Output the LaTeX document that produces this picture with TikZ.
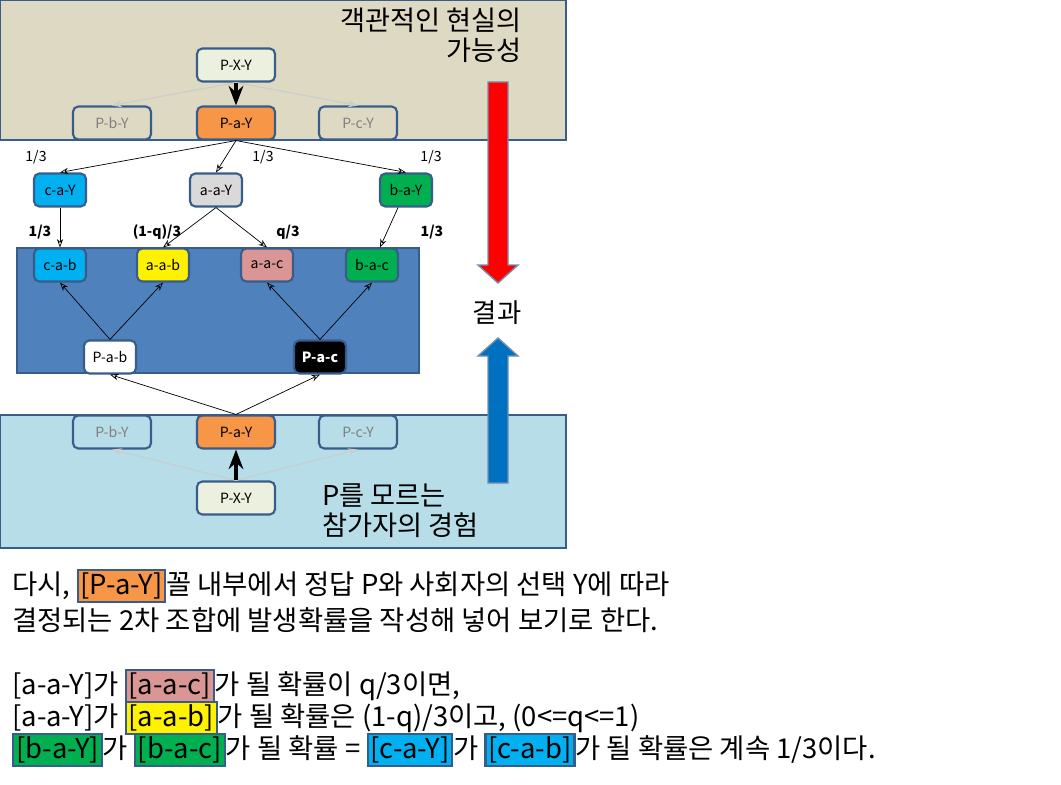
\documentclass[tikz,border=0pt]{standalone}
\usepackage{fontspec}
\setmainfont{Noto Sans CJK KR}
\usetikzlibrary{arrows.meta}
\definecolor{frame}{HTML}{385D8A}
\definecolor{tan}{HTML}{DDD9C3}
\definecolor{sky}{HTML}{B7DDE8}
\definecolor{mid}{HTML}{4F81BD}
\definecolor{orng}{HTML}{F79646}
\definecolor{cyn}{HTML}{00B0F0}
\definecolor{grn}{HTML}{00B050}
\definecolor{pnk}{HTML}{D99694}
\definecolor{pale}{HTML}{EBF1DE}
\definecolor{gry}{HTML}{D9D9D9}
\definecolor{deep}{HTML}{0070C0}
\tikzset{
  >=Stealth,
  every node/.append style={font=\fontsize{8}{9}\selectfont},
}
\tikzset{
  box/.style={draw=frame, line width=1.2pt, rounded corners=3pt, align=center, minimum height=0.66cm},
  wide/.style={box, minimum width=1.56cm},
  narrow/.style={box, minimum width=1.04cm},
  faded/.style={wide, text=gray},
  arrow/.style={-{Stealth[open]}, line width=0.4pt},
  ghost/.style={-{Stealth[open]}, draw=gray!40, line width=0.6pt},
  heavy/.style={-{Stealth}, line width=1.8pt},
  panel/.style={draw=frame, line width=1.2pt},
  big/.style={font=\fontsize{15.5}{17}\selectfont, align=right, inner sep=0pt},
  prob/.style={font=\fontsize{8}{9}\selectfont},
  line/.style={font=\fontsize{15.6}{18}\selectfont, anchor=west, inner sep=0pt}
}
\newcommand{\hlbox}[2]{{\setlength{\fboxsep}{1pt}\setlength{\fboxrule}{1.2pt}\fcolorbox{frame}{#1}{#2}}}
\begin{document}
\begin{tikzpicture}[x=0.02cm, y=-0.02cm]
\useasboundingbox (0,0) rectangle (1061,784);
% panels
\draw[panel, fill=tan] (0,0) rectangle (566,140);
\draw[panel, fill=mid] (17,248) rectangle (419,373);
\draw[panel, fill=sky] (0,415) rectangle (566,548);
\node[big, anchor=north east] (top) at (522,8) {객관적인 현실의\\가능성};
\node[big, align=left, anchor=north west] (bot) at (322,483) {P를 모르는\\참가자의 경험};
\node[font=\fontsize{15}{17}\selectfont] (res) at (497,313) {결과};
% upper tree
\node[wide, fill=pale] (pxy) at (236,65) {P-X-Y};
\node[faded, fill=tan] (pby) at (112,123) {P-b-Y};
\node[wide, fill=orng] (pay) at (236,123) {P-a-Y};
\node[faded, fill=tan] (pcy) at (358,123) {P-c-Y};
\draw[ghost] (pxy.south) -- (pby.north);
\draw[ghost] (pxy.south) -- (pcy.north);
\draw[heavy] (pxy) -- (pay);
\node[narrow, fill=cyn] (cay) at (60,190) {c-a-Y};
\node[narrow, fill=gry] (aay) at (216,190) {a-a-Y};
\node[narrow, fill=grn] (bay) at (406,190) {b-a-Y};
\draw[arrow] (pay.south) -- (cay.north);
\draw[arrow] (pay.south) -- (aay.north);
\draw[arrow] (pay.south) -- (bay.north);
\node[prob] (p1) at (36,157) {1/3};
\node[prob] (p2) at (263,157) {1/3};
\node[prob] (p3) at (431,157) {1/3};
% outcomes
\node[narrow, fill=cyn] (cab) at (60,265) {c-a-b};
\node[narrow, fill=yellow] (aab) at (163,265) {a-a-b};
\node[narrow, fill=pnk] (aac) at (267,265) {a-a-c};
\node[narrow, fill=grn] (bac) at (372,265) {b-a-c};
\draw[arrow] (cay) -- (cab);
\draw[arrow] (aay.south) -- (aab.north);
\draw[arrow] (aay.south) -- (aac.north);
\draw[arrow] (bay) -- (bac);
\node[prob, font=\fontsize{8}{9}\selectfont\bfseries] (q1) at (40,232) {1/3};
\node[prob, font=\fontsize{8}{9}\selectfont\bfseries] (q2) at (157,232) {(1-q)/3};
\node[prob, font=\fontsize{8}{9}\selectfont\bfseries] (q3) at (288,232) {q/3};
\node[prob, font=\fontsize{8}{9}\selectfont\bfseries] (q4) at (432,232) {1/3};
\node[narrow, fill=white] (pab) at (110,357) {P-a-b};
\node[narrow, fill=black, text=white] (pac) at (320,357) {\bfseries P-a-c};
\draw[arrow] (pab.north) -- (cab.south);
\draw[arrow] (pab.north) -- (aab.south);
\draw[arrow] (pac.north) -- (aac.south);
\draw[arrow] (pac.north) -- (bac.south);
% lower tree
\node[faded, fill=sky] (lby) at (112,432) {P-b-Y};
\node[wide, fill=orng] (lay) at (236,432) {P-a-Y};
\node[faded, fill=sky] (lcy) at (358,432) {P-c-Y};
\node[wide, fill=pale] (lxy) at (236,498) {P-X-Y};
\draw[ghost] (lxy.north) -- (lby.south);
\draw[ghost] (lxy.north) -- (lcy.south);
\draw[heavy] (lxy) -- (lay);
\draw[arrow] (lay.north) -- (pab.south);
\draw[arrow] (lay.north) -- (pac.south);
% big arrows
\draw[draw=frame!70, fill=red, line width=0.8pt] (488,82) -- (508,82) -- (508,265) -- (518,265) -- (498,283) -- (478,265) -- (488,265) -- cycle;
\draw[draw=frame!70, fill=deep, line width=0.8pt] (488,483) -- (508,483) -- (508,356) -- (518,356) -- (498,338) -- (478,356) -- (488,356) -- cycle;
% explanation
\node[line] (l1) at (12,586) {다시, \hlbox{orng}{[P-a-Y]}꼴 내부에서 정답 P와 사회자의 선택 Y에 따라};
\node[line] (l2) at (12,620) {결정되는 2차 조합에 발생확률을 작성해 넣어 보기로 한다.};
\node[line] (l3) at (12,686) {[a-a-Y]가 \hlbox{pnk}{[a-a-c]}가 될 확률이 q/3이면,};
\node[line] (l4) at (12,718) {[a-a-Y]가 \hlbox{yellow}{[a-a-b]}가 될 확률은 (1-q)/3이고, (0<=q<=1)};
\node[line] (l5) at (12,750) {\hlbox{grn}{[b-a-Y]}가 \hlbox{grn}{[b-a-c]}가 될 확률 = \hlbox{cyn}{[c-a-Y]}가 \hlbox{cyn}{[c-a-b]}가 될 확률은 계속 1/3이다.};
\end{tikzpicture}
\end{document}
